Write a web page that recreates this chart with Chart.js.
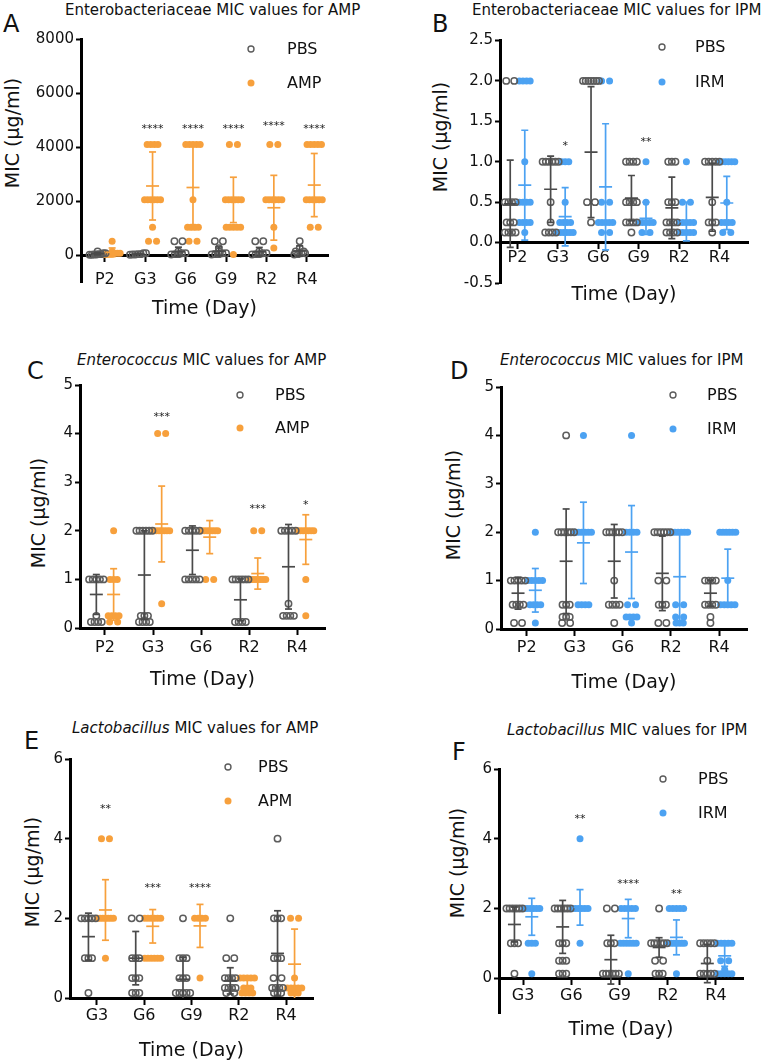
<!DOCTYPE html>
<html><head><meta charset="utf-8">
<script src="https://cdn.jsdelivr.net/npm/chart.js@4.4.1/dist/chart.umd.min.js"></script>
<style>
body{margin:0;background:#fff;width:767px;height:1061px;position:relative;overflow:hidden;font-family:'DejaVu Sans',sans-serif;color:#111}
canvas{position:absolute}
.ttl{position:absolute;font-size:15px;line-height:15px;white-space:nowrap}
.let{position:absolute;font-size:24px;line-height:24px}
.yt{position:absolute;transform:translate(-50%,-50%) rotate(-90deg);white-space:nowrap;font-size:19px;line-height:19px}
</style></head><body>
<div class="ttl" style="left:65px;top:3px">Enterobacteriaceae MIC values for AMP</div>
<div class="ttl" style="left:472px;top:3px">Enterobacteriaceae MIC values for IPM</div>
<div class="ttl" style="left:77px;top:353px"><i>Enterococcus</i> MIC values for AMP</div>
<div class="ttl" style="left:500px;top:353px"><i>Enterococcus</i> MIC values for IPM</div>
<div class="ttl" style="left:72px;top:721px"><i>Lactobacillus</i> MIC values for AMP</div>
<div class="ttl" style="left:507px;top:723px"><i>Lactobacillus</i> MIC values for IPM</div>
<div class="let" style="left:3px;top:12px">A</div>
<div class="let" style="left:432px;top:12px">B</div>
<div class="let" style="left:27px;top:359px">C</div>
<div class="let" style="left:450px;top:359px">D</div>
<div class="let" style="left:24px;top:729px">E</div>
<div class="let" style="left:452px;top:740px">F</div>
<div class="yt" style="left:12px;top:133px">MIC (μg/ml)</div>
<div class="yt" style="left:440px;top:137px">MIC (μg/ml)</div>
<div class="yt" style="left:38px;top:513px">MIC (μg/ml)</div>
<div class="yt" style="left:453px;top:505px">MIC (μg/ml)</div>
<div class="yt" style="left:32px;top:872px">MIC (μg/ml)</div>
<div class="yt" style="left:457px;top:863px">MIC (μg/ml)</div>
<canvas id="cA"></canvas><canvas id="cB"></canvas><canvas id="cC"></canvas>
<canvas id="cD"></canvas><canvas id="cE"></canvas><canvas id="cF"></canvas>
<script>
// ---------- Panel A: Enterobacteriaceae, AMP ----------
const catsA = ['P2','G3','G6','G9','R2','R4'];
const yTicksA = [0,2000,4000,6000,8000];
const pbsA = [
  [8,8,16,16,32,32,64,64,128],
  [8,16,16,32,32,64,64],
  [512,512,16,32,32,64,64,128],
  [512,512,16,32,32,64,64,128,256],
  [512,512,16,32,32,64,64,128],
  [512,16,32,64,64,128,128,256]
];
const pbsMeanA = [50,35,120,140,120,150];
const pbsSdA   = [40,25,170,160,160,190];
const ampA = [
  [512,64,64,32,32,128,16,16,64],
  [4096,4096,4096,4096,2048,2048,2048,2048,2048,2048,1024,512,512],
  [4096,4096,4096,4096,4096,2048,1024,1024,1024,1024,512,512],
  [4096,4096,2048,2048,2048,2048,2048,2048,1024,1024,1024,1024,1024,16],
  [4096,4096,2048,2048,2048,2048,2048,2048,1024,256],
  [4096,4096,4096,4096,4096,2048,2048,2048,2048,2048,2048,1024,1024]
];
const ampMeanA = [100,2556,2500,2040,1750,2590];
const ampSdA   = [160,1260,1550,840,1200,1170];
const starsA = ['','****','****','****','****','****'];
const starYA = [null,4750,4750,4750,4850,4750];

// ---------- Panel B: Enterobacteriaceae, IPM ----------
const catsB = ['P2','G3','G6','G9','R2','R4'];
const yTicksB = [-0.5,0,0.5,1,1.5,2,2.5];
const pbsB = [
  [2,2,0.5,0.5,0.5,0.5,0.25,0.25,0.25,0.125,0.125,0.125,0.125],
  [1,1,1,1,1,1,0.5,0.25,0.125,0.125,0.125,0.125],
  [2,2,2,2,2,2,2,0.5,0.5,0.25],
  [1,1,1,1,0.5,0.5,0.5,0.5,0.25,0.25,0.25,0.25,0.125],
  [1,1,1,0.5,0.5,0.5,0.25,0.25,0.25,0.25,0.125,0.125,0.125,0.125],
  [1,1,1,1,1,0.5,0.25,0.25,0.25,0.125]
];
const pbsMeanB = [0.48,0.66,1.12,0.55,0.43,0.56];
const pbsSdB   = [0.54,0.41,0.81,0.28,0.38,0.42];
const ipmB = [
  [2,2,2,2,1,0.5,0.5,0.5,0.5,0.25,0.25,0.25,0.25,0.125],
  [1,1,1,0.5,0.25,0.25,0.25,0.25,0.125,0.125,0.125,0.125,0.125,0.125],
  [2,2,0.5,0.5,0.25,0.25,0.25,0.25,0.25,0.125,0.125],
  [1,0.5,0.25,0.25,0.25,0.25,0.25,0.125,0.125],
  [1,0.5,0.5,0.25,0.25,0.25,0.25,0.25,0.125,0.125,0.125,0.125,0.125],
  [1,1,1,1,1,1,0.5,0.25,0.25,0.25,0.25,0.125,0.125]
];
const ipmMeanB = [0.71,0.32,0.69,0.30,0.26,0.49];
const ipmSdB   = [0.68,0.36,0.78,0.20,0.24,0.33];
const starsB = ['','*','','**','',''];
const starYB = [null,1.23,null,1.27,null,null];

// ---------- Panel C: Enterococcus, AMP ----------
const catsC = ['P2','G3','G6','R2','R4'];
const yTicksC = [0,1,2,3,4,5];
const pbsC = [
  [1,1,1,1,1,0.25,0.125,0.125,0.125,0.125],
  [2,2,2,2,2,2,0.25,0.25,0.25,0.125,0.125,0.125,0.125],
  [2,2,2,2,2,1,1,1,1,1],
  [1,1,1,1,1,1,0.125,0.125,0.125,0.125],
  [2,2,2,2,2,0.5,0.25,0.25,0.25,0.25]
];
const pbsMeanC = [0.69,1.09,1.60,0.58,1.26];
const pbsSdC   = [0.41,0.91,0.50,0.43,0.87];
const ampC = [
  [2,1,1,1,0.25,0.25,0.25,0.25,0.125,0.125],
  [4,4,2,2,2,2,2,2,2,0.5],
  [2,2,2,2,2,2,2,1,1],
  [2,2,1,1,1,1,1,1,1],
  [2,2,2,2,2,2,2,1,0.25]
];
const ampMeanC = [0.69,2.14,1.87,1.12,1.82];
const ampSdC   = [0.53,0.78,0.34,0.32,0.51];
const starsC = ['','***','','***','*'];
const starYC = [null,4.38,null,2.49,2.57];

// ---------- Panel D: Enterococcus, IPM ----------
const catsD = ['P2','G3','G6','R2','R4'];
const yTicksD = [0,1,2,3,4,5];
const pbsD = [
  [1,1,1,1,1,0.5,0.5,0.5,0.5,0.125,0.125],
  [4,2,2,2,2,2,2,0.5,0.5,0.5,0.25,0.25,0.25,0.125,0.125],
  [2,2,2,2,2,2,1,0.5,0.5,0.5,0.5,0.125],
  [2,2,2,2,2,2,1,1,0.5,0.5,0.5,0.125,0.125],
  [1,1,1,1,0.5,0.5,0.5,0.5,0.125,0.25]
];
const pbsMeanD = [0.74,1.40,1.40,1.15,0.74];
const pbsSdD   = [0.33,1.08,0.76,0.77,0.27];
const ipmD = [
  [2,1,1,1,1,1,0.5,0.5,0.5,0.5,0.125],
  [4,2,2,2,2,2,2,0.5,0.5,0.5,0.5],
  [4,2,2,2,2,0.5,0.5,0.25,0.25,0.25,0.25,0.125],
  [2,2,2,2,2,2,0.5,0.5,0.25,0.25,0.125,0.125,0.125],
  [2,2,2,2,2,2,1,0.5,0.5,0.5,0.5,0.5]
];
const ipmMeanD = [0.80,1.78,1.59,1.08,1.05];
const ipmSdD   = [0.45,0.84,0.96,0.91,0.60];
const starsD = ['','','','',''];
const starYD = [null,null,null,null,null];

// ---------- Panel E: Lactobacillus, AMP ----------
const catsE = ['G3','G6','G9','R2','R4'];
const yTicksE = [0,2,4,6];
const pbsE = [
  [2,2,2,2,2,1,1,1,0.125],
  [2,2,1,1,1,0.5,0.5,0.5,0.125,0.125,0.125],
  [2,1,1,1,0.5,0.5,0.5,0.125,0.125,0.125,0.125,0.125],
  [2,1,1,0.5,0.5,0.5,0.5,0.25,0.25,0.25,0.25,0.125,0.125],
  [4,2,2,2,1,1,1,0.5,0.5,0.25,0.25,0.25,0.25,0.125,0.125,0.125]
];
const pbsMeanE = [1.54,1.00,0.47,0.43,1.12];
const pbsSdE   = [0.59,0.67,0.55,0.33,1.07];
const apmE = [
  [4,4,2,2,2,2,2,2,2,1],
  [2,2,2,2,2,2,1,1,1,1,1,1],
  [2,2,2,2,0.5],
  [0.5,0.5,0.5,0.5,0.5,0.25,0.25,0.25,0.125,0.125,0.125,0.125],
  [2,2,0.5,0.25,0.25,0.25,0.25,0.25,0.125,0.125,0.125]
];
const apmMeanE = [2.21,1.80,1.81,0.27,0.85];
const apmSdE   = [0.76,0.42,0.54,0.20,0.88];
const starsE = ['**','***','****','',''];
const starYE = [4.8,2.81,2.81,null,null];

// ---------- Panel F: Lactobacillus, IPM ----------
const catsF = ['G3','G6','G9','R2','R4'];
const yTicksF = [0,2,4,6];
const pbsF = [
  [2,2,2,2,2,2,1,1,1,0.125],
  [2,2,2,2,2,2,1,1,1,0.5,0.5,0.5,0.125,0.125,0.125],
  [2,2,1,1,1,0.125,0.125,0.125,0.125,0.125,0.125],
  [2,1,1,1,1,1,1,0.5,0.5,0.125,0.125,0.125],
  [1,1,1,1,1,0.5,0.125,0.125,0.125,0.125,0.125]
];
const pbsMeanF = [1.54,1.47,0.53,0.88,0.42];
const pbsSdF   = [0.50,0.76,0.70,0.28,0.55];
const ipmF = [
  [2,2,2,2,2,2,1,1,1,0.125],
  [4,2,2,2,2,2,2,1],
  [2,2,2,2,2,1,1,1,1,1,1,0.125],
  [2,2,2,2,2,1,1,1,1,1,1,1,0.125],
  [1,1,1,1,1,0.5,0.5,0.25,0.125,0.125,0.125,0.125,0.125]
];
const ipmMeanF = [1.76,2.03,1.71,1.17,0.64];
const ipmSdF   = [0.53,0.51,0.55,0.50,0.30];
const starsF = ['','**','****','**',''];
const starYF = [null,4.63,2.76,2.47,null];

// ---------- styling ----------
const FONT = "'DejaVu Sans', sans-serif";
const ORANGE = '#F7A03C', BLUE = '#4CA2F2', GRAY = '#5c5c5c';
const OFF = 0.18;

const panels = [
  {id:'cA', box:[0,0,384,340], area:[81,39,328,282], x:[0.41,6.52], y:[-1000,8000], cats:catsA, yTicks:yTicksA, dec:0,
   pbs:pbsA, pm:pbsMeanA, ps:pbsSdA, trt:ampA, tm:ampMeanA, ts:ampSdA, tLabel:'AMP', color:ORANGE,
   stars:starsA, starY:starYA, tickPad:10, titlePad:0, titleLH:1.0, leg:[251,49,83,287]},
  {id:'cB', box:[384,0,383,340], area:[116,40.5,364,283], x:[0.567,6.705], y:[-0.5,2.5], cats:catsB, yTicks:yTicksB, dec:1,
   pbs:pbsB, pm:pbsMeanB, ps:pbsSdB, trt:ipmB, tm:ipmMeanB, ts:ipmSdB, tLabel:'IRM', color:BLUE,
   stars:starsB, starY:starYB, tickPad:1, titlePad:15, titleLH:1.2, leg:[278,47,82,311]},
  {id:'cC', box:[0,340,384,365], area:[80,45,325,288], x:[0.48,5.58], y:[0,5], cats:catsC, yTicks:yTicksC, dec:0,
   pbs:pbsC, pm:pbsMeanC, ps:pbsSdC, trt:ampC, tm:ampMeanC, ts:ampSdC, tLabel:'AMP', color:ORANGE,
   stars:starsC, starY:starYC, tickPad:5, titlePad:6, titleLH:1.2, leg:[240,55,88,275]},
  {id:'cD', box:[384,340,383,365], area:[117,47,363,289], x:[0.466,5.58], y:[0,5], cats:catsD, yTicks:yTicksD, dec:0,
   pbs:pbsD, pm:pbsMeanD, ps:pbsSdD, trt:ipmD, tm:ipmMeanD, ts:ipmSdD, tLabel:'IRM', color:BLUE,
   stars:starsD, starY:starYD, tickPad:4, titlePad:10, titleLH:1.2, leg:[289,55,89,323]},
  {id:'cE', box:[0,705,384,356], area:[70,54,313,293], x:[0.43,5.57], y:[0,6], cats:catsE, yTicks:yTicksE, dec:0,
   pbs:pbsE, pm:pbsMeanE, ps:pbsSdE, trt:apmE, tm:apmMeanE, ts:apmSdE, tLabel:'APM', color:ORANGE,
   stars:starsE, starY:starYE, tickPad:3, titlePad:11, titleLH:1.2, leg:[228,62,96,258]},
  {id:'cF', box:[384,705,383,356], area:[115,64,359,308], x:[0.50,5.56], y:[-1,6], cats:catsF, yTicks:yTicksF, dec:0,
   pbs:pbsF, pm:pbsMeanF, ps:pbsSdF, trt:ipmF, tm:ipmMeanF, ts:ipmSdF, tLabel:'IRM', color:BLUE,
   stars:starsF, starY:starYF, tickPad:3, titlePad:10, titleLH:1.2, leg:[279,74,108,314]}
];

// horizontal spreading of dots sharing (visually) the same value
function swarm(groups, off, P) {
  const pxX = (P.area[2]-P.area[0])/(P.x[1]-P.x[0]);
  const pxY = (P.area[3]-P.area[1])/(P.y[1]-P.y[0]);
  const out = [];
  groups.forEach((vals, ci) => {
    const xc = ci + 1 + off;
    const s = vals.slice().sort((a,b)=>a-b);
    const levels = [];
    s.forEach(v => {
      const L = levels[levels.length-1];
      if (L && (v - L.base)*pxY < 3) L.items.push(v); else levels.push({base:v, items:[v]});
    });
    levels.forEach(L => {
      const n = L.items.length;
      const sp = n === 2 ? 8 : (n > 2 ? Math.min(3.6, 16/(n-1)) : 0);
      L.items.forEach((v,k) => out.push({x: xc + (k-(n-1)/2)*sp/pxX, y: v}));
    });
  });
  return out;
}

const errorBars = {
  id:'errorBars',
  afterDatasetsDraw(chart, args, o) {
    const {ctx, chartArea:a, scales:{x, y}} = chart;
    ctx.save();
    ctx.beginPath(); ctx.rect(a.left, a.top-6, a.right-a.left, a.bottom-a.top+6); ctx.clip();
    ctx.lineWidth = 1.7; ctx.lineCap = 'butt';
    const seg = (x1,y1,x2,y2) => { ctx.beginPath(); ctx.moveTo(x1,y1); ctx.lineTo(x2,y2); ctx.stroke(); };
    o.groups.forEach(g => {
      ctx.strokeStyle = g.color;
      g.mean.forEach((m, i) => {
        const px = x.getPixelForValue(i + 1 + g.off);
        const pm = y.getPixelForValue(m), pt = y.getPixelForValue(m + g.sd[i]), pb = y.getPixelForValue(m - g.sd[i]);
        seg(px, pt, px, pb);
        seg(px-3.5, pt, px+3.5, pt); seg(px-3.5, pb, px+3.5, pb);
        seg(px-6.5, pm, px+6.5, pm);
      });
    });
    ctx.restore();
  }
};

const starsPlugin = {
  id:'stars',
  afterDatasetsDraw(chart, args, o) {
    const {ctx, scales:{x, y}} = chart;
    ctx.save();
    ctx.font = '11px ' + FONT; ctx.fillStyle = '#222'; ctx.textAlign = 'center'; ctx.textBaseline = 'middle';
    o.stars.forEach((s, i) => {
      if (!s) return;
      ctx.fillText(s, x.getPixelForValue(i + 1 + OFF), y.getPixelForValue(o.starY[i]) + 2.5);
    });
    ctx.restore();
  }
};

const legendPlugin = {
  id:'legendBox',
  afterDraw(chart, args, o) {
    const {ctx} = chart;
    const [mx, y1, y2, tx] = o.pos;
    ctx.save();
    ctx.beginPath(); ctx.arc(mx, y1, 3, 0, Math.PI*2);
    ctx.lineWidth = 1.4; ctx.strokeStyle = GRAY; ctx.stroke();
    ctx.beginPath(); ctx.arc(mx, y2, 3.5, 0, Math.PI*2);
    ctx.fillStyle = o.color; ctx.fill();
    ctx.font = '16px ' + FONT; ctx.fillStyle = '#111'; ctx.textAlign = 'left'; ctx.textBaseline = 'middle';
    ctx.fillText('PBS', tx, y1 + 1);
    ctx.fillText(o.label, tx, y2 + 1);
    ctx.restore();
  }
};

panels.forEach(P => {
  const cv = document.getElementById(P.id);
  cv.width = P.box[2]; cv.height = P.box[3];
  cv.style.left = P.box[0] + 'px'; cv.style.top = P.box[1] + 'px';
  cv.style.width = P.box[2] + 'px'; cv.style.height = P.box[3] + 'px';
  const axisW = P.area[0];
  new Chart(cv, {
    type:'scatter',
    data:{datasets:[
      {label:'PBS', data: swarm(P.pbs, -OFF, P), pointStyle:'circle', pointRadius:3.2, pointBorderWidth:1.5,
       borderColor:GRAY, backgroundColor:'rgba(255,255,255,0)'},
      {label:P.tLabel, data: swarm(P.trt, OFF, P), pointStyle:'circle', pointRadius:3.5, pointBorderWidth:0,
       borderColor:P.color, backgroundColor:P.color}
    ]},
    options:{
      responsive:false, animation:false, devicePixelRatio:1,
      layout:{padding:{left:0, top:P.area[1], right:P.box[2]-P.area[2], bottom:P.box[3]-P.area[3]}},
      plugins:{
        legend:{display:false}, tooltip:{enabled:false},
        errorBars:{groups:[{off:-OFF, mean:P.pm, sd:P.ps, color:'#4a4a4a'},{off:OFF, mean:P.tm, sd:P.ts, color:P.color}]},
        stars:{stars:P.stars, starY:P.starY},
        legendBox:{pos:P.leg, color:P.color, label:P.tLabel}
      },
      scales:{
        x:{type:'linear', min:P.x[0], max:P.x[1], position:{y:0},
           afterBuildTicks: s => { s.ticks = P.cats.map((c,i) => ({value:i+1})); },
           ticks:{autoSkip:false, maxRotation:0, padding:P.tickPad, color:'#111', font:{family:FONT, size:16},
                  callback: v => P.cats[Math.round(v)-1] ?? ''},
           grid:{display:true, drawOnChartArea:false, drawTicks:true, tickLength:5, tickWidth:2, tickColor:'#000'},
           border:{display:true, width:3, color:'#000'},
           title:{display:true, text:'Time (Day)', color:'#111', font:{family:FONT, size:19, lineHeight:P.titleLH}, padding:{top:P.titlePad, bottom:0}}},
        y:{type:'linear', min:P.y[0], max:P.y[1], position:'left',
           afterBuildTicks: s => { s.ticks = P.yTicks.map(v => ({value:v})); },
           afterFit: s => { s.width = axisW; },
           ticks:{padding:2, color:'#111', font:{family:FONT, size:15}, callback: v => Number(v).toFixed(P.dec)},
           grid:{display:true, drawOnChartArea:false, drawTicks:true, tickLength:5, tickWidth:2, tickColor:'#000'},
           border:{display:true, width:3, color:'#000'}}
      }
    },
    plugins:[errorBars, starsPlugin, legendPlugin]
  });
});
</script>
</body></html>
